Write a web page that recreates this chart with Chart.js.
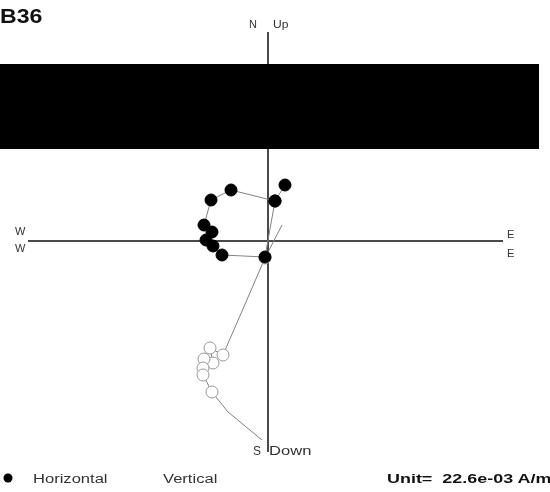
<!DOCTYPE html>
<html lang="en">
<head>
<meta charset="UTF-8">
<title>B36 Zijderveld</title>
<script src="https://cdn.jsdelivr.net/npm/chart.js"></script>
<style>
    body { margin: 0; background: #fff; font-family: Arial, "Liberation Sans", sans-serif; }
    #wrap { position: relative; width: 550px; height: 492px; overflow: hidden; }
    canvas { position: absolute; left: 0; top: 0; }
    .t { position: absolute; color: #333; font-size: 11px; line-height: 1; white-space: nowrap; transform-origin: left top; }
    .w { transform: scaleX(1.38); }
    .b { font-weight: bold; color: #111; }
    #blackout { position: absolute; left: 0; top: 64px; width: 539px; height: 85px; background: #000; }
</style>
</head>
<body>
<div id="wrap">
    <canvas id="zij" width="550" height="492"></canvas>
    <div id="blackout"></div>
    <div class="t b" style="left:0;top:5px;font-size:21px;transform:scaleX(1.1);">B36</div>
    <div class="t" style="left:249px;top:19px;">N</div>
    <div class="t" style="left:273px;top:19px;transform:scaleX(1.1);">Up</div>
    <div class="t" style="left:15px;top:226px;">W</div>
    <div class="t" style="left:15px;top:243px;">W</div>
    <div class="t" style="left:507px;top:229px;">E</div>
    <div class="t" style="left:507px;top:248px;">E</div>
    <div class="t" style="left:253px;top:445px;font-size:12px;">S</div>
    <div class="t w" style="left:269px;top:445px;font-size:12px;">Down</div>
    <div class="t w" style="left:33px;top:473px;font-size:12px;">Horizontal</div>
    <div class="t w" style="left:163px;top:473px;font-size:12px;">Vertical</div>
    <div class="t b w" style="left:387px;top:472px;font-size:13px;">Unit=&nbsp; 22.6e-03 A/m</div>
</div>
<script>
    // horizontal projection (E, N) and vertical projection (E, Up), plot units
    const horizE = [1.7, 0.7, -0.3, -4.6, -5.5, -6.2, -5.6, -6.4, -5.7, -3.7, 0.7];
    const horizN = [5.6, 4.0, -1.6, -1.4, -0.5, 0.1, 0.9, 1.6, 4.1, 5.1, 4.0];
    const vertE = [1.4, -0.3, -4.5, -5.8, -5.5, -6.4, -6.5, -6.5, -5.6, -4.0, -0.6];
    const vertUp = [1.6, -1.7, -11.4, -10.7, -12.2, -11.8, -12.7, -13.4, -15.1, -17.1, -19.9];
    const vertShown = [0, 1, 1, 1, 1, 1, 1, 1, 1, 0, 0];

    const legendMarks = [{ x: 8, y: 478, filled: true }];

    const axesPlugin = {
        id: 'zijAxes',
        beforeDatasetsDraw(chart) {
            const { ctx, chartArea, scales } = chart;
            const x0 = scales.x.getPixelForValue(0);
            const y0 = scales.y.getPixelForValue(0);
            ctx.save();
            ctx.strokeStyle = '#4a4a4a';
            ctx.lineWidth = 2;
            ctx.beginPath();
            ctx.moveTo(chartArea.left, y0);
            ctx.lineTo(chartArea.right, y0);
            ctx.moveTo(x0, chartArea.top);
            ctx.lineTo(x0, chartArea.bottom);
            ctx.stroke();
            ctx.restore();
        },
        afterDraw(chart) {
            const ctx = chart.ctx;
            ctx.save();
            legendMarks.forEach(m => {
                ctx.beginPath();
                ctx.arc(m.x, m.y, 4.5, 0, Math.PI * 2);
                ctx.fillStyle = '#000';
                ctx.fill();
            });
            ctx.restore();
        }
    };

    new Chart(document.getElementById('zij'), {
        type: 'scatter',
        data: {
            datasets: [{
                label: 'Horizontal',
                data: horizE.map((x, i) => ({ x, y: horizN[i] })),
                showLine: true,
                borderColor: '#808080',
                borderWidth: 1,
                pointRadius: 6,
                pointBackgroundColor: '#000',
                pointBorderColor: '#000'
            }, {
                label: 'Vertical',
                data: vertE.map((x, i) => ({ x, y: vertUp[i] })),
                showLine: true,
                borderColor: '#808080',
                borderWidth: 1,
                pointRadius: vertShown.map(s => s ? 6 : 0),
                pointBackgroundColor: '#fff',
                pointBorderColor: '#999',
                pointBorderWidth: 1
            }]
        },
        options: {
            responsive: false,
            animation: false,
            layout: { padding: { left: 28, right: 47, top: 32, bottom: 40 } },
            plugins: { legend: { display: false }, tooltip: { enabled: false } },
            scales: {
                x: { type: 'linear', min: -24, max: 23.5, display: false },
                y: { type: 'linear', min: -21.1, max: 20.9, display: false }
            }
        },
        plugins: [axesPlugin]
    });
</script>
</body>
</html>
